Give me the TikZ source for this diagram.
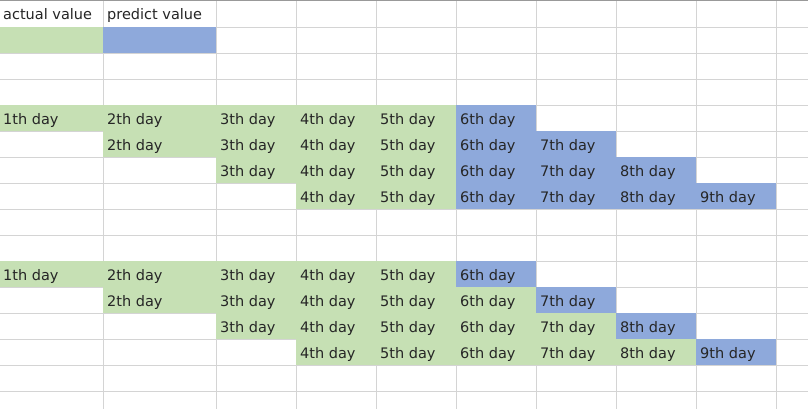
\documentclass[tikz,border=0pt]{standalone}
\usepackage{fontspec}
\setmainfont{DejaVu Sans}
\definecolor{actualgreen}{HTML}{C6E0B4}
\definecolor{predictblue}{HTML}{8EA9DB}
\definecolor{gridgray}{HTML}{D4D4D4}
\begin{document}
\begin{tikzpicture}[x=1pt,y=-1pt,
  actual/.style={fill=actualgreen},
  predict/.style={fill=predictblue},
  cell/.style={anchor=base west,inner sep=0pt,font=\fontsize{14.5}{17}\selectfont,text=black!85}]
\useasboundingbox (0,0) rectangle (808,409);
\fill[white] (0,0) rectangle (808,409);
% grid
\foreach \y in {27,53,...,391}
\draw[gridgray] (0,\y) -- (808,\y);
\foreach \x in {103,216,296,376,456,536,616,696,776}
\draw[gridgray] (\x,0) -- (\x,409);
\draw[black!40] (0,.5) -- (808,.5);
%%%% legend
\fill[actual] (0,27) rectangle (103,53);
\fill[predict] (103,27) rectangle (216,53);
\node[cell] (actual) at (3,20) {actual value};
\node[cell] (predict) at (107,20) {predict value};
%%%% first table
\fill[actual] (0,105) rectangle (456,131);
\fill[predict] (456,105) rectangle (536,131);
\fill[actual] (103,131) rectangle (456,157);
\fill[predict] (456,131) rectangle (616,157);
\fill[actual] (216,157) rectangle (456,183);
\fill[predict] (456,157) rectangle (696,183);
\fill[actual] (296,183) rectangle (456,209);
\fill[predict] (456,183) rectangle (776,209);
%%%% second table
\fill[actual] (0,261) rectangle (456,287);
\fill[predict] (456,261) rectangle (536,287);
\fill[actual] (103,287) rectangle (536,313);
\fill[predict] (536,287) rectangle (616,313);
\fill[actual] (216,313) rectangle (616,339);
\fill[predict] (616,313) rectangle (696,339);
\fill[actual] (296,339) rectangle (696,365);
\fill[predict] (696,339) rectangle (776,365);
%%%% day labels
\foreach \t/\y in {a/124.5,b/280.5}{
\foreach \c/\x in {1/3,2/107,3/220,4/300,5/380,6/460}
\node[cell] (\t1c\c) at (\x,\y) {\c th day};
\foreach \c/\x in {2/107,3/220,4/300,5/380,6/460,7/540}
\node[cell] (\t2c\c) at (\x,\y+26) {\c th day};
\foreach \c/\x in {3/220,4/300,5/380,6/460,7/540,8/620}
\node[cell] (\t3c\c) at (\x,\y+52) {\c th day};
\foreach \c/\x in {4/300,5/380,6/460,7/540,8/620,9/700}
\node[cell] (\t4c\c) at (\x,\y+78) {\c th day};
}
\end{tikzpicture}
\end{document}
